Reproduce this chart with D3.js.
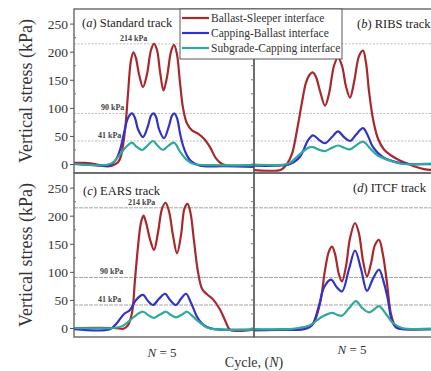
<!DOCTYPE html>
<html><head><meta charset="utf-8">
<script src="https://cdn.jsdelivr.net/npm/d3@7"></script>
<style>body{margin:0;background:#fff}svg{display:block}text{font-family:"Liberation Serif","Times New Roman",serif}</style>
</head><body>
<svg id="chart" width="431" height="371"></svg>
<script>
// ---- data (time within the cycle window, stress kPa) ----
const seriesNames = ["Ballast-Sleeper interface","Capping-Ballast interface","Subgrade-Capping interface"];
const seriesColors = ["#a8282c","#3232c8","#2fa89e"];
const yTicks = [0,50,100,150,200,250];
const refLevels = [214,90,41];
const refLabels = ["214 kPa","90 kPa","41 kPa"];
const panelLetters = ["a","b","c","d"];
const panelNames = ["Standard track","RIBS track","EARS track","ITCF track"];

const aBallast = [[0,2],[11,2],[21,0],[31,-4],[38,-3],[44,3],[47,14],[51,60],[54,125],[57,185],[59.5,199],[62,188],[65,160],[69,137],[73,160],[77,203],[80,214],[83,203],[86,165],[89.5,131],[93,155],[97,200],[100,212],[103,195],[106,145],[109,100],[113,72],[118,60],[124,54],[130,45],[136,30],[142,10],[148,0],[156,-3],[180,-2]];
const aCapping = [[0,0],[20,-2],[35,-3],[38,0],[42,8],[46,25],[50,55],[54,82],[58,90],[61,82],[64,62],[69,48],[74,68],[77,86],[79.5,90],[82,84],[85,62],[90,46],[95,68],[98,86],[100.5,90],[103,82],[106,55],[109,33],[113,15],[117,5],[126,-3],[150,-4],[180,-5]];
const aSubgrade = [[0,0],[30,-2],[36,0],[40,4],[46,17],[53,32],[58,38],[63,30],[68,25],[73,32],[79,41],[84,32],[89,25],[94,32],[100,38],[106,22],[113,7],[120,0],[140,-2],[180,-2]];

const bBallast = [[0,-11],[15,-12],[27,-10],[33,0],[38,18],[43,60],[48,110],[52,145],[56,160],[59,163],[62,155],[66,130],[71,104],[75,125],[80,175],[84,190],[88,175],[92,138],[96,118],[100,145],[105,192],[109,202],[112,180],[115,130],[119,80],[124,45],[130,26],[140,12],[150,3],[160,-4],[170,-9],[180,-11]];
const bCapping = [[0,-3],[20,-3],[36,0],[46,13],[54,42],[59,51],[65,43],[71,37],[78,48],[84,58],[90,48],[96,41],[102,52],[109,64],[114,50],[119,30],[129,12],[143,3],[156,0],[180,0]];
const bSubgrade = [[0,-1],[30,-1],[36,2],[43,13],[51,25],[56,30],[59,30],[66,25],[71,23],[78,29],[84,33],[90,29],[96,26],[102,33],[109,40],[116,28],[123,16],[136,6],[149,0],[180,1]];

const cBallast = [[0,0],[40,0],[50,-1],[54,5],[58,27],[61,86],[64,145],[67,188],[69.5,200],[72,188],[76,158],[80,139],[84,170],[88,212],[91.5,223],[95,208],[99,165],[103,133],[107,165],[110.5,213],[113.5,221],[116.5,205],[120,155],[124,100],[128,70],[133,60],[139,51],[146,33],[152,10],[156,-3],[180,-3]];
const cCapping = [[0,-2],[36,-2],[43,9],[50,25],[56,32],[62,50],[69,59],[74,48],[79,41],[85,52],[91,61],[96,50],[102,41],[107,52],[112,61],[117,45],[123,20],[128,8],[133,2],[140,-2],[180,-3]];
const cSubgrade = [[0,0],[40,0],[48,3],[53,9],[60,20],[69,29],[75,22],[80,18],[86,24],[92,29],[97,23],[102,19],[108,24],[113,29],[118,22],[123,14],[133,1],[140,-2],[180,-3]];

const dBallast = [[0,-4],[30,-3],[50,-1],[59,8],[66,44],[71,103],[75,137],[78,145],[81,132],[85,95],[88,83],[92,110],[96,160],[101,187],[105,168],[109,120],[113,92],[117,115],[121,148],[125,157],[129,130],[133,80],[137,25],[142,2],[150,-2],[180,-2]];
const dCapping = [[0,-4],[30,-3],[50,-2],[58,5],[65,40],[70,72],[77,86],[83,72],[88,65],[95,105],[101,138],[107,105],[113,66],[119,88],[125,104],[130,80],[134,50],[138,12],[143,0],[160,-2],[180,-2]];
const dSubgrade = [[0,-2],[30,-2],[45,0],[56,5],[68,20],[78,27],[84,23],[88,22],[95,35],[102,48],[108,36],[115,28],[120,33],[125,39],[132,25],[139,9],[148,0],[180,-1]];

const panelSeries = [[aBallast,aCapping,aSubgrade],[bBallast,bCapping,bSubgrade],[cBallast,cCapping,cSubgrade],[dBallast,dCapping,dSubgrade]];

// ---- layout ----
const svg = d3.select("#chart");
const W = 180, H = 164;
const lefts = [74,254,74,254], tops = [9,9,173,173];
const x = d3.scaleLinear().domain([0,180]).range([0,W]);
const y = d3.scaleLinear().domain([-16,276]).range([H,0]);
const line = d3.line().x(d=>x(d[0])).y(d=>y(d[1])).curve(d3.curveCatmullRom.alpha(0.5));

panelSeries.forEach((ser,i)=>{
  const g = svg.append("g").attr("transform",`translate(${lefts[i]},${tops[i]})`);
  const cid = "clip"+i;
  g.append("clipPath").attr("id",cid).append("rect").attr("width",W).attr("height",H);
  const top = i<2;
  g.selectAll("line.ref").data(refLevels).join("line").attr("class","ref")
    .attr("x1",0).attr("x2",W).attr("y1",d=>y(d)).attr("y2",d=>y(d))
    .attr("stroke", top?"#bcbcbc":"#a6a6a6").attr("stroke-width",1)
    .attr("stroke-dasharray", top?"2,1.5":"4,1");
  ser.forEach((s,k)=>{
    g.append("path").datum(s).attr("d",line).attr("fill","none")
      .attr("stroke",seriesColors[k]).attr("stroke-width",2.2)
      .attr("stroke-linejoin","round")
      .attr("clip-path",`url(#${cid})`);
  });
  g.append("rect").attr("width",W).attr("height",H).attr("fill","none").attr("stroke","#5a5a5a").attr("stroke-width",1.3);
  if(i%2===0){
    const ax = d3.axisLeft(y).tickValues(yTicks).tickSize(4).tickPadding(2).tickFormat(d3.format("d"));
    const ag = g.append("g").call(ax);
    ag.select(".domain").remove();
    ag.selectAll("line").attr("stroke","#555");
    ag.selectAll("text").attr("font-size","13.5px").attr("fill","#333").attr("dy","0.34em")
      .style("font-family",'"Liberation Serif",serif');
    g.selectAll("line.minor").data([25,75,125,175,225]).join("line").attr("class","minor")
      .attr("x1",0).attr("x2",2).attr("y1",d=>y(d)).attr("y2",d=>y(d)).attr("stroke","#777");
    const lx = i===0 ? [46,27,24] : [54,26,24];
    g.selectAll("text.ref").data(refLevels).join("text").attr("class","ref")
      .attr("x",(d,j)=>lx[j]).attr("y",d=>y(d)-3)
      .attr("font-size","8px").attr("font-weight","bold").attr("fill","#444")
      .text((d,j)=>refLabels[j]);
  } else {
    g.selectAll("line.tk").data(d3.range(0,276,25)).join("line").attr("class","tk")
      .attr("x1",-3).attr("x2",0).attr("y1",d=>y(d)).attr("y2",d=>y(d)).attr("stroke","#777");
  }
  const tx = [8,103,9,99][i], ty = [18,19,22,19][i];
  const t = g.append("text").attr("x",tx).attr("y",ty).attr("font-size","12.5px").attr("fill","#222");
  t.append("tspan").text("(");
  t.append("tspan").attr("font-style","italic").text(panelLetters[i]);
  t.append("tspan").text(") "+panelNames[i]);
});

[91,255].forEach(cy=>{
  svg.append("text").attr("transform",`translate(32,${cy}) rotate(-90)`)
    .attr("text-anchor","middle").attr("font-size","18px").attr("fill","#333")
    .text("Vertical stress (kPa)");
});

const lg = svg.append("g").attr("transform","translate(180,9)");
lg.append("rect").attr("width",162).attr("height",50).attr("fill","#fff").attr("stroke","#5a5a5a").attr("stroke-width",1);
seriesNames.forEach((n,k)=>{
  const yy = 9+15*k;
  lg.append("line").attr("x1",2).attr("x2",29).attr("y1",yy).attr("y2",yy).attr("stroke",seriesColors[k]).attr("stroke-width",2.2);
  lg.append("text").attr("x",31).attr("y",yy+4).attr("font-size","11.5px").attr("fill","#333").text(n);
});

[[162,357],[352,354]].forEach(p=>{
  const t = svg.append("text").attr("x",p[0]).attr("y",p[1]).attr("text-anchor","middle").attr("font-size","13px").attr("fill","#333");
  t.append("tspan").attr("font-style","italic").text("N");
  t.append("tspan").text(" = 5");
});
const ct = svg.append("text").attr("x",254).attr("y",367).attr("text-anchor","middle").attr("font-size","14px").attr("fill","#333");
ct.append("tspan").text("Cycle, (");
ct.append("tspan").attr("font-style","italic").text("N");
ct.append("tspan").text(")");
</script>
</body></html>
